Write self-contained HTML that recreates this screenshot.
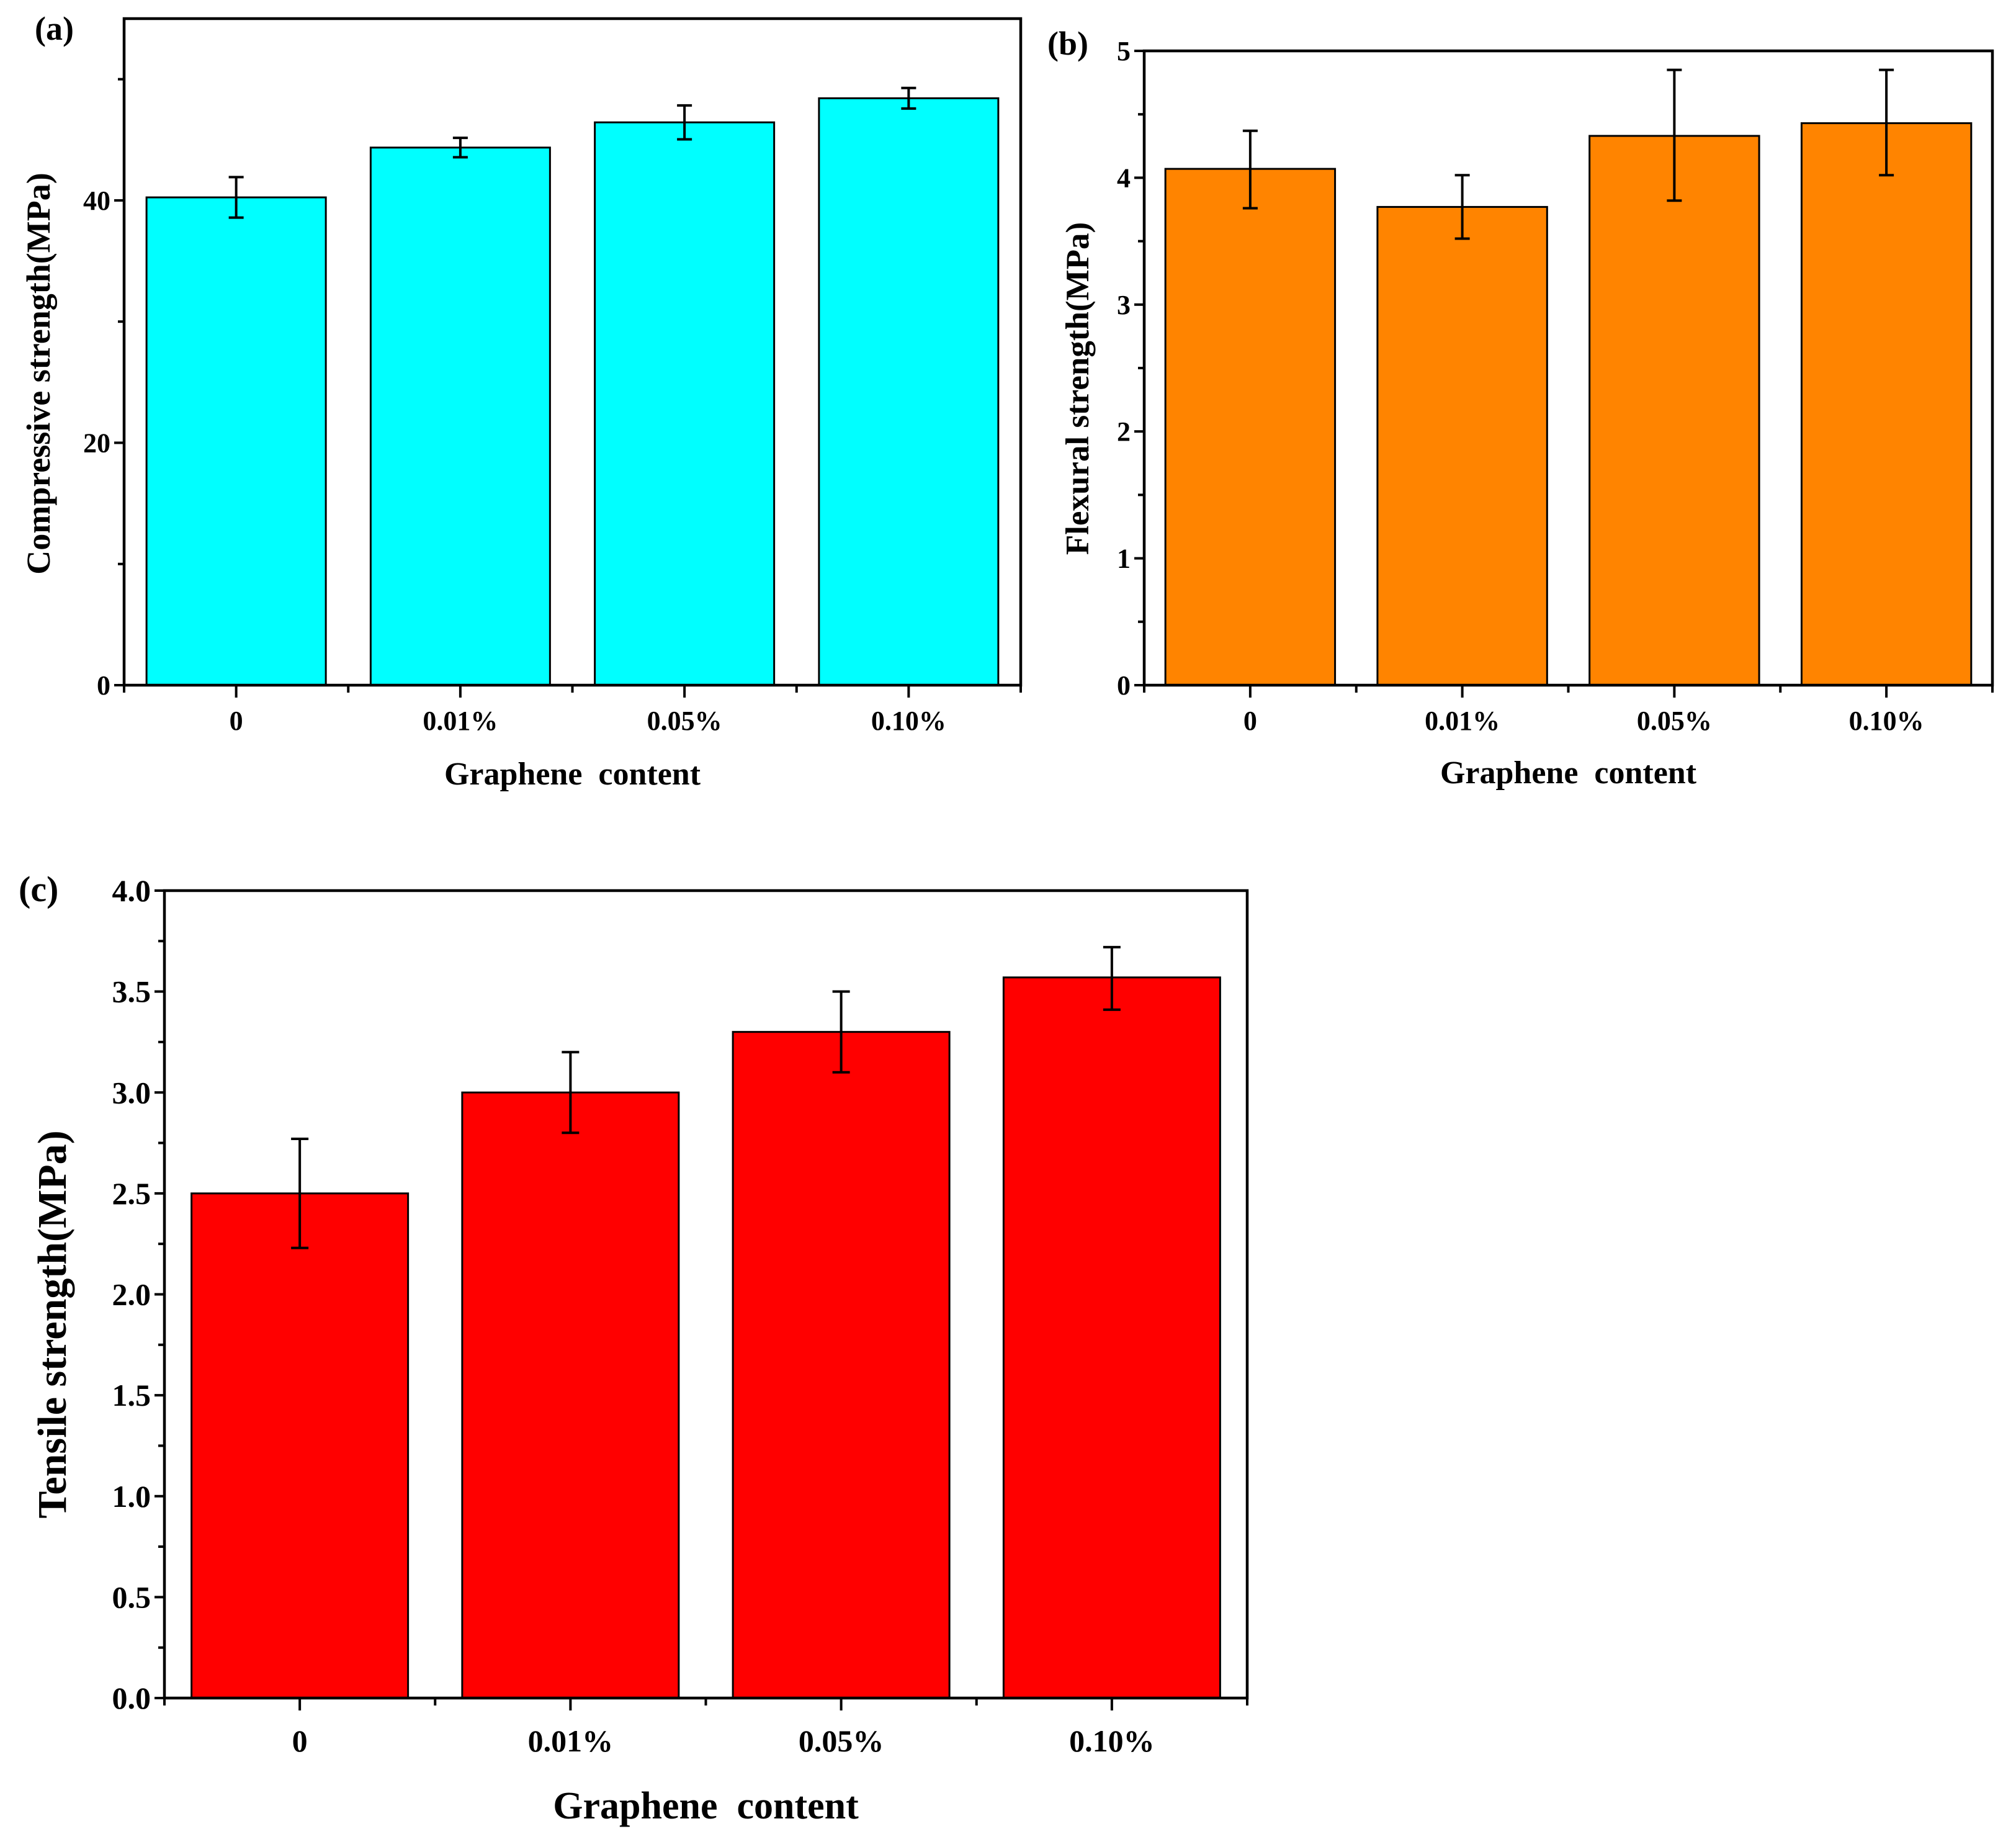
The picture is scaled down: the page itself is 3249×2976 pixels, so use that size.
<!DOCTYPE html>
<html><head><meta charset="utf-8"><style>
html,body{margin:0;padding:0;background:#fff;}
svg{display:block;}
text{font-family:"Liberation Serif",serif;font-weight:bold;fill:#000;}
</style></head><body>
<svg id="fig" width="3249" height="2976" viewBox="0 0 3249 2976" xmlns="http://www.w3.org/2000/svg">
<rect x="0" y="0" width="3249" height="2976" fill="#fff"/>
</svg>
<script>
const categories = ["0","0.01%","0.05%","0.10%"];
const compValues = [40.25, 44.36, 46.44, 48.43];
const compErrors = [1.67, 0.8, 1.4, 0.85];
const compTicks = [0, 20, 40];
const flexValues = [4.07, 3.77, 4.33, 4.43];
const flexErrHi = [4.37, 4.02, 4.85, 4.85];
const flexErrLo = [3.76, 3.52, 3.82, 4.02];
const flexTicks = [0, 1, 2, 3, 4, 5];
const tensValues = [2.5, 3.0, 3.3, 3.57];
const tensErrHi = [2.77, 3.2, 3.5, 3.72];
const tensErrLo = [2.23, 2.8, 3.1, 3.41];
const tensTicks = ["0.0","0.5","1.0","1.5","2.0","2.5","3.0","3.5","4.0"];

const NS = "http://www.w3.org/2000/svg";
const svg = document.getElementById('fig');
function mk(tag, attrs, parent, txt){
  const e = document.createElementNS(NS, tag);
  for (const k in attrs) e.setAttribute(k, attrs[k]);
  if (txt !== undefined) e.textContent = txt;
  (parent || svg).appendChild(e);
  return e;
}

function drawChart(c){
  const g = mk('g', {});
  
  
  const yS = v => c.bottom - (v - 0) / c.ymax * (c.bottom - c.top);
  const step = (c.right - c.left) / categories.length;
  const xS = i => c.left + step * (i + 0.5);
  c.values.forEach((v, i) => {
    const bw = step * 0.8;
    const r = mk('rect', {x: xS(i) - bw/2, y: yS(v), width: bw, height: yS(0) - yS(v), fill: c.color, stroke: '#000', 'stroke-width': 3}, g);
    
    
  });
  c.values.forEach((v, i) => {
    const hi = c.hi[i], lo = c.lo[i];
    const eg = mk('g', {stroke: '#000', 'stroke-width': 4, fill: 'none'}, g);
    
    
    const x = xS(i), cw = c.cap;
    mk('line', {x1: x, x2: x, y1: yS(hi), y2: yS(lo)}, eg);
    mk('line', {x1: x - cw/2, x2: x + cw/2, y1: yS(hi), y2: yS(hi)}, eg);
    mk('line', {x1: x - cw/2, x2: x + cw/2, y1: yS(lo), y2: yS(lo)}, eg);
  });
  const fr = mk('rect', {x: c.left, y: c.top, width: c.right - c.left, height: c.bottom - c.top, fill: 'none', stroke: '#000', 'stroke-width': 4.5}, g);
  
  
  const yt = mk('g', {}, g);
  
  
  c.yticks.forEach(t => {
    const v = parseFloat(t), y = yS(v);
    mk('line', {x1: c.left - 16, x2: c.left, y1: y, y2: y, stroke: '#000', 'stroke-width': 4}, yt);
    mk('text', {x: c.left - 22, y: y + c.tfs * 0.34, 'text-anchor': 'end', 'font-size': c.tfs}, yt, t);
  });
  for (let v = c.minor; v < c.ymax; v += c.minor * 2) {
    const y = yS(v);
    mk('line', {x1: c.left - 10, x2: c.left, y1: y, y2: y, stroke: '#000', 'stroke-width': 4}, yt);
  }
  const xt = mk('g', {}, g);
  
  
  categories.forEach((cat, i) => {
    const x = xS(i);
    mk('line', {x1: x, x2: x, y1: c.bottom, y2: c.bottom + 20, stroke: '#000', 'stroke-width': 4}, xt);
    mk('text', {x: x, y: c.xly, 'text-anchor': 'middle', 'font-size': c.tfs}, xt, cat);
  });
  for (let i = 0; i <= categories.length; i++) {
    const x = c.left + step * i;
    mk('line', {x1: x, x2: x, y1: c.bottom, y2: c.bottom + 12, stroke: '#000', 'stroke-width': 4}, xt);
  }
  const xtl = mk('text', {x: (c.left + c.right)/2, y: c.xty, 'text-anchor': 'middle', 'font-size': c.afs}, g, 'Graphene\u00a0\u00a0content');
  
  
  const ytl = mk('text', {x: 0, y: 0, 'text-anchor': 'middle', 'font-size': c.yfs, transform: 'translate(' + c.ytx + ',' + c.yty + ') rotate(-90)'}, g, c.ytitle);
  
  
  const pl = mk('text', {x: c.plx, y: c.ply, 'font-size': c.pfs}, g, c.panel);
  
  
}

drawChart({name: 'compressive-chart', id: 'a', color: '#00FFFF', values: compValues,
  hi: compValues.map((v, i) => v + compErrors[i]), lo: compValues.map((v, i) => v - compErrors[i]),
  yticks: compTicks.map(String), minor: 10, ymax: 55,
  left: 200, right: 1645, top: 30, bottom: 1104, cap: 24, tfs: 44, afs: 52, yfs: 54,
  xly: 1176, xty: 1264, ytx: 80, yty: 602, ytitle: 'Compressive strength(MPa)',
  plx: 56, ply: 64, pfs: 54, panel: '(a)'});

drawChart({name: 'flexural-chart', id: 'b', color: '#FF8400', values: flexValues,
  hi: flexErrHi, lo: flexErrLo,
  yticks: flexTicks.map(String), minor: 0.5, ymax: 5,
  left: 1844, right: 3211, top: 82, bottom: 1104, cap: 24, tfs: 44, afs: 52, yfs: 53,
  xly: 1176, xty: 1262, ytx: 1754, yty: 626, ytitle: 'Flexural strength(MPa)',
  plx: 1688, ply: 88, pfs: 54, panel: '(b)'});

drawChart({name: 'tensile-chart', id: 'c', color: '#FF0000', values: tensValues,
  hi: tensErrHi, lo: tensErrLo,
  yticks: tensTicks, minor: 0.25, ymax: 4,
  left: 265, right: 2010, top: 1435, bottom: 2736, cap: 28, tfs: 50, afs: 62, yfs: 66,
  xly: 2822, xty: 2930, ytx: 106, yty: 2134, ytitle: 'Tensile strength(MPa)',
  plx: 30, ply: 1452, pfs: 58, panel: '(c)'});
</script>
</body></html>
